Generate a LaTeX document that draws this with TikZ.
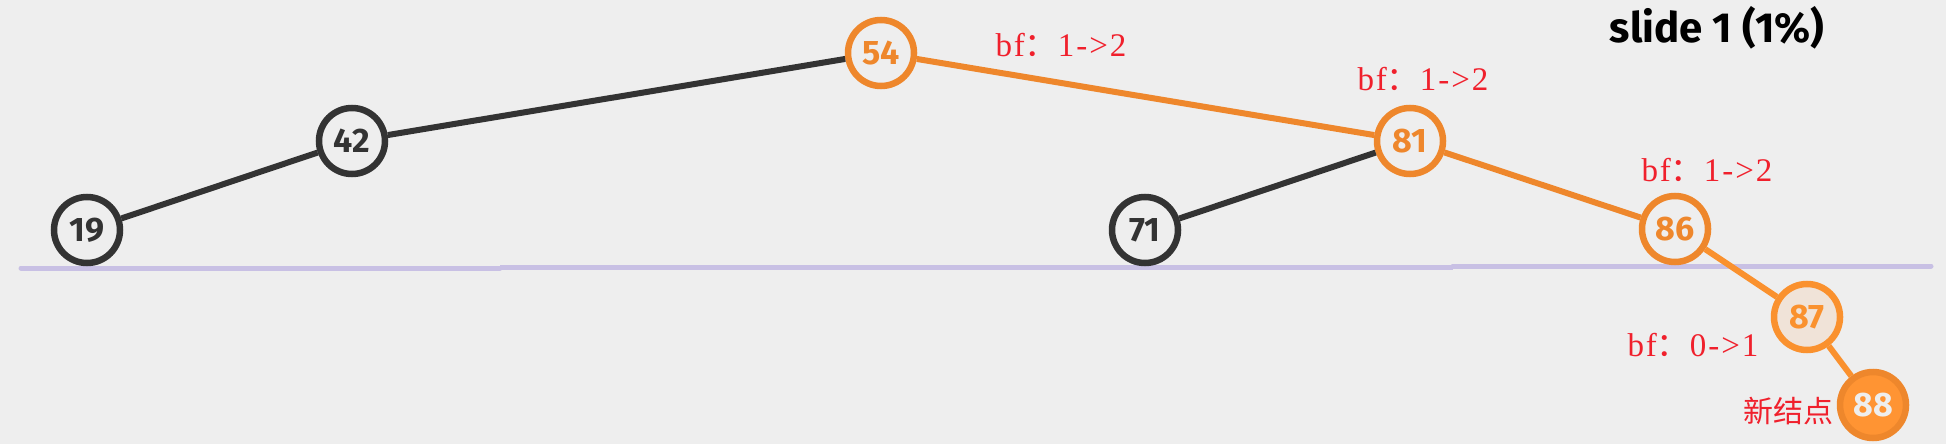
\documentclass[tikz,border=0pt]{standalone}
\usepackage{fontspec}
\setsansfont{Fira Sans}
\newfontfamily\cjk{Noto Sans CJK SC}
\newfontfamily\rulefont[LetterSpace=6]{Liberation Serif}
\usepackage{tikz}
\usetikzlibrary{positioning}
\usepackage{xcolor}

\definecolor{bg}{HTML}{EEEEEE}
\definecolor{ink}{HTML}{333333}
\definecolor{path}{HTML}{EE872C}
\definecolor{lpath}{HTML}{FA912E}
\definecolor{newfill}{HTML}{FF9433}
\definecolor{lav}{HTML}{C8C0E4}
\definecolor{bfred}{HTML}{F0202C}

\tikzset{
  treenode/.style={circle, minimum size=66pt, inner sep=0pt, line width=6.5pt,
    draw=ink, fill=bg, text=ink, font=\sffamily\bfseries\fontsize{34}{34}\selectfont},
  hotnode/.style={treenode, draw=path, text=path},
  lastnode/.style={treenode, draw=lpath, fill=newfill!12!bg, text=lpath},
  newnode/.style={treenode, draw=path, fill=newfill, text=bg},
  edge/.style={line width=6pt, ink},
  hotedge/.style={line width=6pt, path},
  bflabel/.style={text=bfred, inner sep=0pt, font=\rulefont\fontsize{33}{33}\selectfont},
}

\begin{document}
\begin{tikzpicture}[x=1pt, y=-1pt, thick]

    % background
    \fill[bg] (0,0) rectangle (1946,444);
    \useasboundingbox (0,0) rectangle (1946,444);

    % level line
    \draw[lav, line width=5pt, line cap=round] (21,268) -- (500,268);
    \draw[lav, line width=5pt] (500,267) -- (1453,267);
    \draw[lav, line width=5pt, line cap=round] (1453,266) -- (1931,266);

    % tree
    \node[treenode] (n19) at (87,230) {19};
    \node[treenode] (n42) at (352,141) {42};
    \node[hotnode] (n54) at (881,53) {54};
    \node[hotnode] (n81) at (1410,141) {81};
    \node[treenode] (n71) at (1145,230) {71};
    \node[hotnode] (n86) at (1675,229) {86};
    \node[lastnode] (n87) at (1807,317) {87};
    \node[newnode] (n88) at (1873,405) {88};

    \draw[edge] (n19) -- (n42);
    \draw[edge] (n42) -- (n54);
    \draw[hotedge] (n54) -- (n81);
    \draw[edge] (n81) -- (n71);
    \draw[hotedge] (n81) -- (n86);
    \draw[hotedge, lpath] (n86) -- (n87);
    \draw[hotedge, lpath] (n87) -- (n88);

    % balance factors
    \node[bflabel] (bf54) at (1061,45) {bf{\cjk ：}1->2};
    \node[bflabel] (bf81) at (1423,79) {bf{\cjk ：}1->2};
    \node[bflabel] (bf86) at (1707,170) {bf{\cjk ：}1->2};
    \node[bflabel] (bf87) at (1693,345) {bf{\cjk ：}0->1};
    \node[bflabel, font=\cjk\fontsize{30}{30}\selectfont] (new) at (1788,411) {新结点};

    % title
    \node[font=\sffamily\bfseries\fontsize{42}{42}\selectfont, inner sep=0pt] (title) at (1717,28) {slide 1 (1\%)};

\end{tikzpicture}
\end{document}
